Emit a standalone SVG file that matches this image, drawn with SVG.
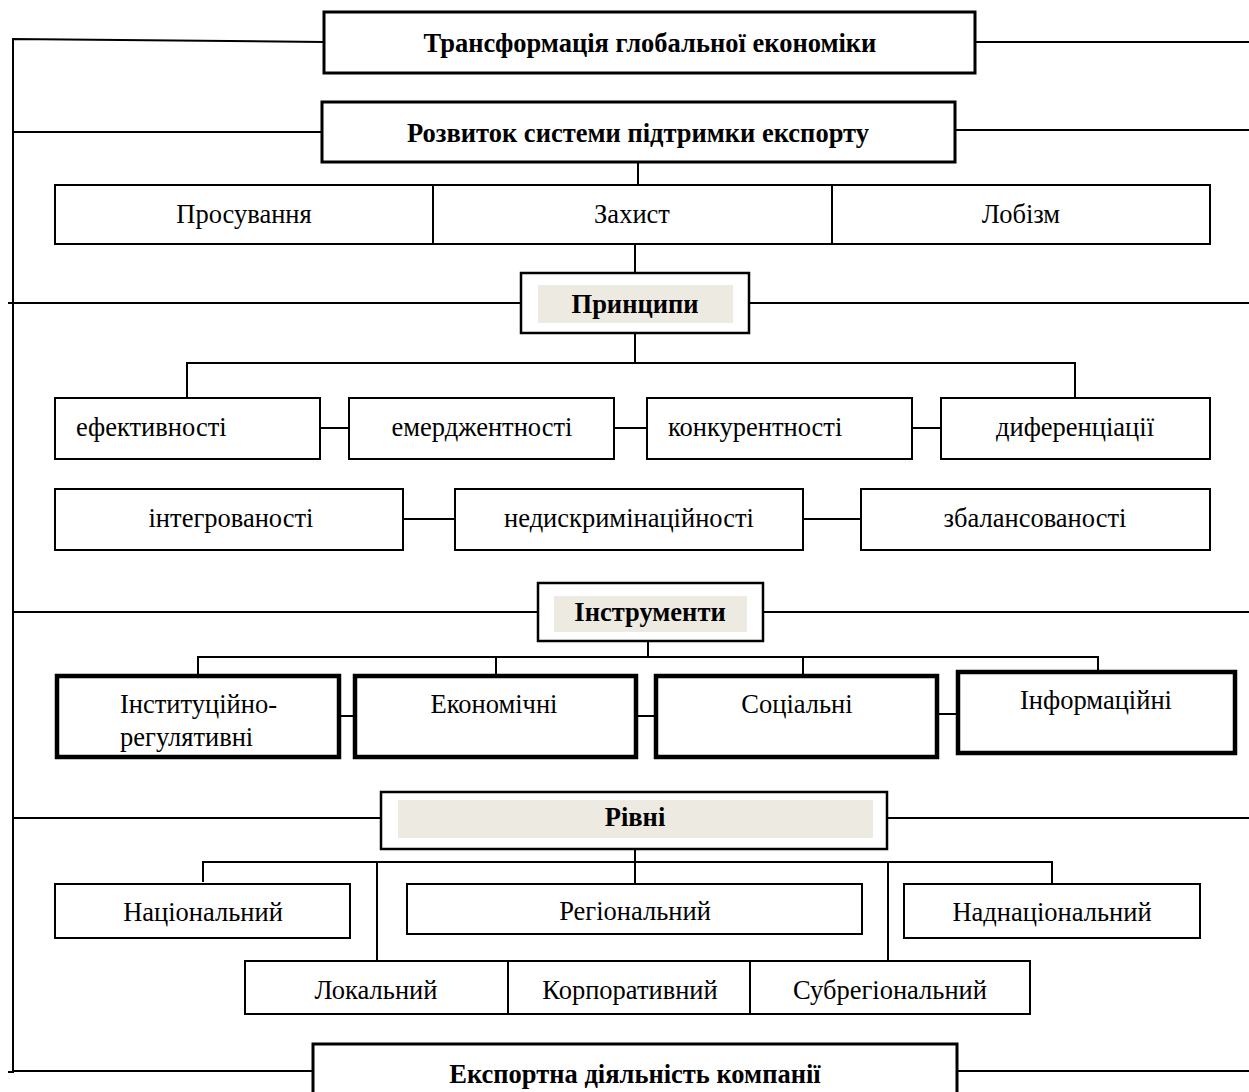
<svg xmlns="http://www.w3.org/2000/svg" width="1249" height="1092" viewBox="0 0 1249 1092">
<style>
.t{font-family:"Liberation Serif","Times New Roman",serif;font-size:26.5px;fill:#000}
.b{font-weight:bold}
.m{text-anchor:middle}
.box{fill:#fff;stroke:#000;stroke-width:2}
.tk{fill:#fff;stroke:#000;stroke-width:3}
.xk{fill:#fff;stroke:#000;stroke-width:4.5}
.fill{fill:#EDEBE1;stroke:none}
.c{fill:none;stroke:#000;stroke-width:2}
</style>
<rect width="1249" height="1092" fill="#fff"/>
<g id="connectors">
<polyline class="c" points="324,42 13,39 13,1072 8,1072"/>
<line class="c" x1="975" y1="42" x2="1249" y2="42"/>
<line class="c" x1="13" y1="132" x2="322" y2="132"/>
<line class="c" x1="955" y1="130" x2="1249" y2="130"/>
<line class="c" x1="638" y1="162" x2="638" y2="185"/>
<line class="c" x1="635" y1="244" x2="635" y2="273"/>
<line class="c" x1="8" y1="303" x2="521" y2="303"/>
<line class="c" x1="749" y1="303" x2="1249" y2="303"/>
<line class="c" x1="635" y1="333" x2="635" y2="363"/>
<polyline class="c" points="187,398 187,363 1075,363 1075,398"/>
<line class="c" x1="320" y1="428" x2="349" y2="428"/>
<line class="c" x1="614" y1="428" x2="647" y2="428"/>
<line class="c" x1="912" y1="428" x2="941" y2="428"/>
<line class="c" x1="403" y1="519" x2="455" y2="519"/>
<line class="c" x1="803" y1="519" x2="861" y2="519"/>
<line class="c" x1="13" y1="612" x2="538" y2="612"/>
<line class="c" x1="763" y1="612" x2="1249" y2="612"/>
<line class="c" x1="648" y1="641" x2="648" y2="657"/>
<polyline class="c" points="198,676 198,657 1098,657 1098,672"/>
<line class="c" x1="496" y1="657" x2="496" y2="676"/>
<line class="c" x1="803" y1="657" x2="803" y2="676"/>
<line class="c" x1="339" y1="716" x2="355" y2="716"/>
<line class="c" x1="636" y1="716" x2="656" y2="716"/>
<line class="c" x1="937" y1="714" x2="958" y2="714"/>
<line class="c" x1="13" y1="818" x2="381" y2="818"/>
<line class="c" x1="887" y1="818" x2="1249" y2="818"/>
<line class="c" x1="635" y1="849" x2="635" y2="884"/>
<polyline class="c" points="203,882 203,862 1052,862 1052,884"/>
<line class="c" x1="377" y1="862" x2="377" y2="961"/>
<line class="c" x1="888" y1="862" x2="888" y2="961"/>
<line class="c" x1="957" y1="1071" x2="1249" y2="1071"/>
<line class="c" x1="13" y1="1071" x2="313" y2="1071"/>
</g>
<g id="n-transform"><rect class="tk" x="324" y="12" width="651" height="61"/><text class="t b m" x="650" y="52">Трансформація глобальної економіки</text></g>
<g id="n-support"><rect class="tk" x="322" y="102" width="633" height="60"/><text class="t b m" x="638" y="142">Розвиток системи підтримки експорту</text></g>
<g id="n-prosuv"><rect class="box" x="55" y="185" width="378" height="59"/><text class="t m" x="244" y="223">Просування</text></g>
<g id="n-zakhyst"><rect class="box" x="433" y="185" width="399" height="59"/><text class="t m" x="632" y="223">Захист</text></g>
<g id="n-lobizm"><rect class="box" x="832" y="185" width="378" height="59"/><text class="t m" x="1021" y="223">Лобізм</text></g>
<g id="n-pryntsypy"><rect class="box" x="521" y="273" width="228" height="60" style="stroke-width:2.5"/><rect class="fill" x="538" y="285" width="195" height="38"/><text class="t b m" x="635" y="313">Принципи</text></g>
<g id="n-efekt"><rect class="box" x="55" y="398" width="265" height="61"/><text class="t" x="76" y="436">ефективності</text></g>
<g id="n-emerdzh"><rect class="box" x="349" y="398" width="265" height="61"/><text class="t m" x="482" y="436">емерджентності</text></g>
<g id="n-konkur"><rect class="box" x="647" y="398" width="265" height="61"/><text class="t" x="668" y="436">конкурентності</text></g>
<g id="n-dyfer"><rect class="box" x="941" y="398" width="269" height="61"/><text class="t m" x="1075" y="436">диференціації</text></g>
<g id="n-integr"><rect class="box" x="55" y="489" width="348" height="61"/><text class="t m" x="231" y="527">інтегрованості</text></g>
<g id="n-nedyskr"><rect class="box" x="455" y="489" width="348" height="61"/><text class="t m" x="629" y="527">недискримінаційності</text></g>
<g id="n-zbalans"><rect class="box" x="861" y="489" width="349" height="61"/><text class="t m" x="1035" y="527">збалансованості</text></g>
<g id="n-instrumenty"><rect class="box" x="538" y="583" width="225" height="58" style="stroke-width:2.5"/><rect class="fill" x="554" y="596" width="193" height="36"/><text class="t b m" x="650" y="621">Інструменти</text></g>
<g id="n-instytuts"><rect class="xk" x="57" y="676" width="282" height="81"/><text class="t" x="120" y="713">Інституційно-</text><text class="t" x="120" y="746">регулятивні</text></g>
<g id="n-ekonom"><rect class="xk" x="355" y="676" width="281" height="81"/><text class="t m" x="494" y="713">Економічні</text></g>
<g id="n-sotsial"><rect class="xk" x="656" y="676" width="281" height="81"/><text class="t m" x="797" y="713">Соціальні</text></g>
<g id="n-inform"><rect class="xk" x="958" y="672" width="277" height="81"/><text class="t m" x="1096" y="709">Інформаційні</text></g>
<g id="n-rivni"><rect class="box" x="381" y="792" width="506" height="57" style="stroke-width:2.5"/><rect class="fill" x="398" y="800" width="475" height="38"/><text class="t b m" x="635" y="826">Рівні</text></g>
<g id="n-natsion"><rect class="box" x="55" y="884" width="295" height="54"/><text class="t m" x="203" y="921">Національний</text></g>
<g id="n-region"><rect class="box" x="407" y="884" width="455" height="50"/><text class="t m" x="635" y="920">Регіональний</text></g>
<g id="n-nadnats"><rect class="box" x="904" y="884" width="296" height="54"/><text class="t m" x="1052" y="921">Наднаціональний</text></g>
<g id="n-lokal"><rect class="box" x="245" y="961" width="263" height="53"/><text class="t m" x="376" y="999">Локальний</text></g>
<g id="n-korpor"><rect class="box" x="508" y="961" width="242" height="53"/><text class="t m" x="630" y="999">Корпоративний</text></g>
<g id="n-subreg"><rect class="box" x="750" y="961" width="280" height="53"/><text class="t m" x="890" y="999">Субрегіональний</text></g>
<g id="n-eksport"><rect class="tk" x="313" y="1044" width="644" height="60"/><text class="t b m" x="635" y="1083">Експортна діяльність компанії</text></g>
</svg>
